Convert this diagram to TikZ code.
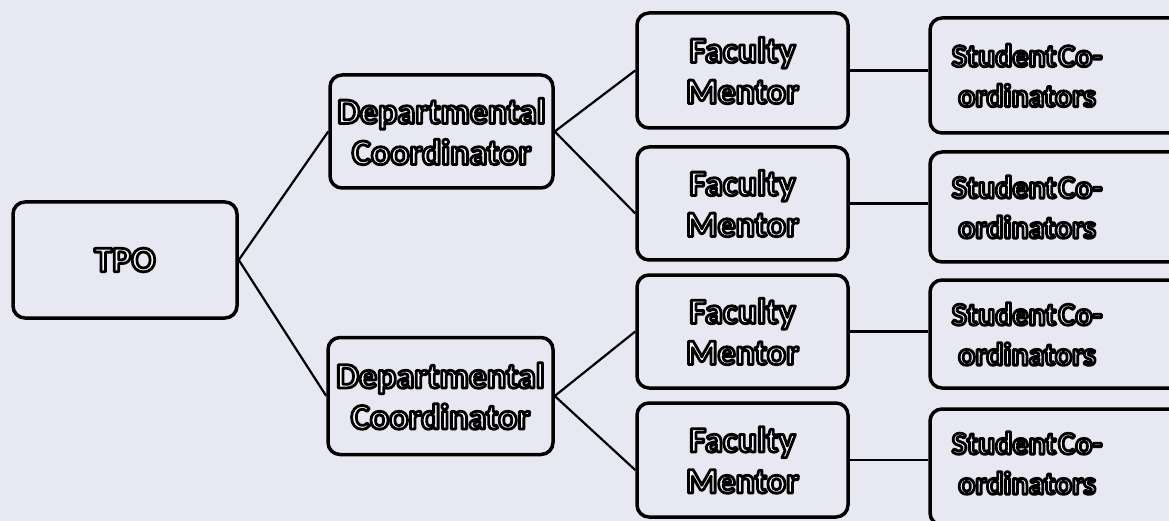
\documentclass[tikz,border=0pt]{standalone}
\usepackage{fontspec}
\setmainfont{Carlito}
\definecolor{paper}{RGB}{232,232,242}
\newcommand{\olt}[1]{{\color{white}\special{pdf:literal direct 2 Tr 2.8 w 1 j 0 G}#1\special{pdf:literal direct 0 Tr}}}
\tikzset{
  orgbox/.style={draw=black, line width=3.5pt, rounded corners=12pt, fill=paper, inner sep=0pt},
  orgtext/.style={align=center, inner sep=0pt, font=\bfseries\fontsize{36}{41}\selectfont},
  sctext/.style={align=center, inner sep=0pt, font=\bfseries\fontsize{32}{40}\selectfont},
  link/.style={draw=black, line width=2.2pt}
}
\begin{document}
\begin{tikzpicture}[x=1pt,y=-1pt]
\fill[paper] (0,0) rectangle (1169,521);
\useasboundingbox (0,0) rectangle (1169,521);
% TPO
\node[orgbox, orgtext, minimum width=224pt, minimum height=116pt] (tpo) at (125,260) {\olt{TPO}};
% Departmental coordinators
\node[orgbox, orgtext, minimum width=223pt, minimum height=113pt] (dc1) at (441.5,131.5) {\olt{Departmental}\\\olt{Coordinator}};
\node[orgbox, orgtext, minimum width=225pt, minimum height=117pt] (dc2) at (440.5,396) {\olt{Departmental}\\\olt{Coordinator}};
% Faculty mentors
\node[orgbox, orgtext, minimum width=211pt, minimum height=115pt] (fm1) at (742.5,70.5) {\olt{Faculty}\\\olt{Mentor}};
\node[orgbox, orgtext, minimum width=211pt, minimum height=113pt] (fm2) at (742.5,203.5) {\olt{Faculty}\\\olt{Mentor}};
\node[orgbox, orgtext, minimum width=211pt, minimum height=113pt] (fm3) at (742.5,331.5) {\olt{Faculty}\\\olt{Mentor}};
\node[orgbox, orgtext, minimum width=211pt, minimum height=114pt] (fm4) at (742.5,460) {\olt{Faculty}\\\olt{Mentor}};
% Student co-ordinator boxes (run past the right edge)
\node[orgbox, minimum width=260pt, minimum height=115pt] (sc1) at (1060,75.5) {};
\node[orgbox, minimum width=260pt, minimum height=110pt] (sc2) at (1060,207) {};
\node[orgbox, minimum width=260pt, minimum height=108pt] (sc3) at (1060,334) {};
\node[orgbox, minimum width=260pt, minimum height=116pt] (sc4) at (1060,467) {};
\node[sctext] (sc1t) at (1027,75.5) {\olt{Student\hspace{0.06em}Co-}\\\olt{ordinators}};
\node[sctext] (sc2t) at (1027,207) {\olt{Student\hspace{0.06em}Co-}\\\olt{ordinators}};
\node[sctext] (sc3t) at (1027,334) {\olt{Student\hspace{0.06em}Co-}\\\olt{ordinators}};
\node[sctext] (sc4t) at (1027,463) {\olt{Student\hspace{0.06em}Co-}\\\olt{ordinators}};
% connectors
\draw[link] (tpo.east) -- (dc1.west);
\draw[link] (tpo.east) -- (dc2.west);
\draw[link] (dc1.east) -- (fm1.west);
\draw[link] (dc1.east) -- ([yshift=-10pt]fm2.west);
\draw[link] (dc2.east) -- (fm3.west);
\draw[link] (dc2.east) -- ([yshift=-10pt]fm4.west);
\draw[link] (fm1.east) -- (fm1.east -| sc1.west);
\draw[link] (fm2.east) -- (fm2.east -| sc2.west);
\draw[link] (fm3.east) -- (fm3.east -| sc3.west);
\draw[link] (fm4.east) -- (fm4.east -| sc4.west);
\end{tikzpicture}
\end{document}
